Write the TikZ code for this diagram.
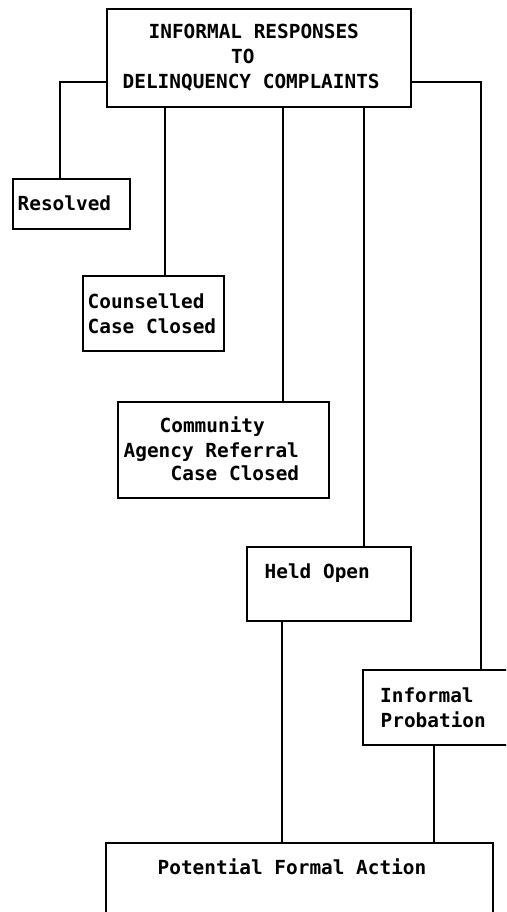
\documentclass[tikz,border=0pt]{standalone}
\usepackage{fontspec}
\newfontfamily\typewriter{DejaVu Sans Mono Bold}
\begin{document}
\begin{tikzpicture}[x=1pt,y=-1pt,
  box/.style={draw, line width=1.7pt, inner sep=0pt, rectangle},
  lbl/.style={anchor=base west, inner sep=0pt, font=\typewriter\fontsize{19.4}{25}\selectfont},
  link/.style={line width=1.6pt}]
  \useasboundingbox (0,0) rectangle (506,912);
  \clip (0,0) rectangle (506,912);

  % boxes
  \node[box, minimum width=304pt, minimum height=98pt] (top)  at (259,58) {};
  \node[box, minimum width=117pt, minimum height=50pt] (res)  at (71.5,204) {};
  \node[box, minimum width=141pt, minimum height=75pt] (coun) at (153.5,313.5) {};
  \node[box, minimum width=211pt, minimum height=96pt] (comm) at (223.5,450) {};
  \node[box, minimum width=164pt, minimum height=74pt] (held) at (329,584) {};
  \node[box, minimum width=157pt, minimum height=75pt] (prob) at (441.5,707.5) {};
  \node[box, minimum width=387pt, minimum height=100pt] (pot) at (299.5,893) {};

  % texts
  \node[lbl] (t1) at (148.5,39) {INFORMAL RESPONSES};
  \node[lbl] (t2) at (231,64) {TO};
  \node[lbl] (t3) at (122.5,89) {DELINQUENCY COMPLAINTS};
  \node[lbl] (r1) at (17.5,211) {Resolved};
  \node[lbl] (c1) at (87.5,308) {Counselled};
  \node[lbl] (c2) at (87.5,333) {Case Closed};
  \node[lbl] (m1) at (159.5,432) {Community};
  \node[lbl] (m2) at (123.5,457) {Agency Referral};
  \node[lbl] (m3) at (170.5,480) {Case Closed};
  \node[lbl] (h1) at (264.5,578) {Held Open};
  \node[lbl] (p1) at (380,702) {Informal};
  \node[lbl] (p2) at (380.5,727) {Probation};
  \node[lbl] (f1) at (157.5,874) {Potential Formal Action};

  % connectors
  \draw[link] ([yshift=-24pt]top.west) -| ([xshift=-11.5pt]res.north);
  \draw[link] ([xshift=11.5pt]coun.north |- top.south) -- ([xshift=11.5pt]coun.north);
  \draw[link] ([xshift=59.5pt]comm.north |- top.south) -- ([xshift=59.5pt]comm.north);
  \draw[link] ([xshift=35pt]held.north |- top.south) -- ([xshift=35pt]held.north);
  \draw[link] ([yshift=-24pt]top.east) -| ([xshift=39.5pt]prob.north);
  \draw[link] ([xshift=-47pt]held.south) -- ([xshift=-47pt]held.south |- pot.north);
  \draw[link] ([xshift=-7.5pt]prob.south) -- ([xshift=-7.5pt]prob.south |- pot.north);
\end{tikzpicture}
\end{document}
